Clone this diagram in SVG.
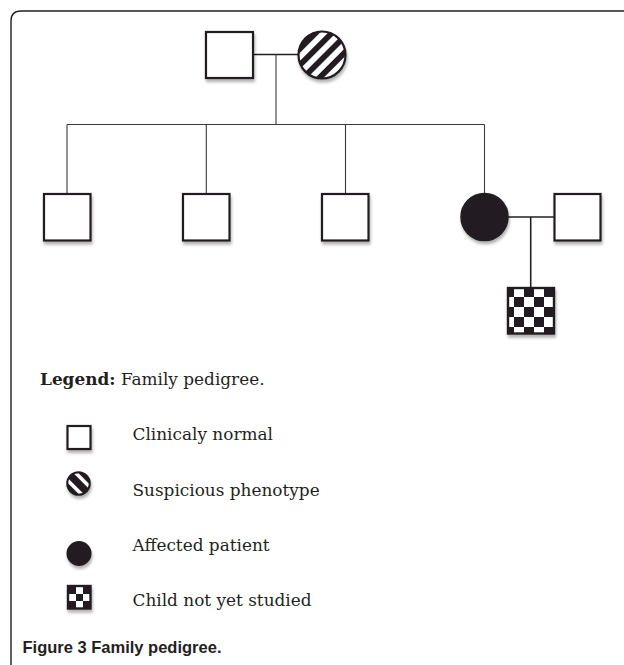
<svg xmlns="http://www.w3.org/2000/svg" width="624" height="665" viewBox="0 0 624 665">
<defs>
<style>
.sq{fill:#fff;stroke:#231f20;stroke-width:2.2}
.blk{fill:#231f20;stroke:#231f20;stroke-width:1.5}
.ln{fill:none;stroke:#3a3a3a;stroke-width:1.1}
.mln{fill:none;stroke:#231f20;stroke-width:1.6}
.lt{font-family:"DejaVu Serif","Liberation Serif",serif;font-size:16.9px;fill:#231f20}
.cap{font-family:"Liberation Sans",Arial,sans-serif;font-weight:bold;font-size:16.5px;fill:#231f20}
</style>
<filter id="sh" x="-30%" y="-30%" width="160%" height="170%">
<feDropShadow dx="1" dy="3" stdDeviation="1.8" flood-color="#000" flood-opacity="0.3"/>
</filter>
<pattern id="stripes" patternUnits="userSpaceOnUse" width="11.5" height="11.5" patternTransform="translate(322 55) rotate(45)">
<rect width="11.5" height="11.5" fill="#fff"/>
<rect width="5.8" height="11.5" fill="#231f20"/>
</pattern>
<clipPath id="smallc"><circle cx="78.5" cy="483.5" r="11.3"/></clipPath>
<pattern id="check" patternUnits="userSpaceOnUse" x="504" y="287" width="20" height="20">
<rect width="20" height="20" fill="#fff"/>
<rect width="10" height="10" fill="#231f20"/>
<rect x="10" y="10" width="10" height="10" fill="#231f20"/>
</pattern>
<pattern id="check2" patternUnits="userSpaceOnUse" x="69" y="587" width="14" height="14">
<rect width="14" height="14" fill="#fff"/>
<rect width="7" height="7" fill="#231f20"/>
<rect x="7" y="7" width="7" height="7" fill="#231f20"/>
</pattern>
</defs>
<rect width="624" height="665" fill="#fff"/>
<path d="M11 665 V21 Q11 11 21 11 H624" fill="none" stroke="#231f20" stroke-width="1.4"/>

<g id="connectors">
<line class="mln" x1="253" y1="54.5" x2="299" y2="54.5"/>
<line class="ln" x1="276" y1="54.5" x2="276" y2="124.5"/>
<line class="ln" x1="67" y1="124.5" x2="484.5" y2="124.5"/>
<line class="ln" x1="67" y1="124.5" x2="67" y2="194"/>
<line class="ln" x1="206.3" y1="124.5" x2="206.3" y2="194"/>
<line class="ln" x1="345.5" y1="124.5" x2="345.5" y2="194"/>
<line class="ln" x1="484.5" y1="124.5" x2="484.5" y2="194"/>
<line class="mln" x1="507" y1="217" x2="555" y2="217"/>
<line class="mln" x1="530.7" y1="217" x2="530.7" y2="288"/>
</g>

<g id="father" filter="url(#sh)"><rect class="sq" x="206" y="32" width="47" height="46"/></g>
<g id="mother" filter="url(#sh)"><circle cx="322" cy="55" r="23.5" fill="url(#stripes)" stroke="#231f20" stroke-width="2.2"/></g>
<g id="child1" filter="url(#sh)"><rect class="sq" x="44" y="194" width="46.5" height="46.5"/></g>
<g id="child2" filter="url(#sh)"><rect class="sq" x="183" y="194" width="46.5" height="46.5"/></g>
<g id="child3" filter="url(#sh)"><rect class="sq" x="322" y="194" width="46.5" height="46.5"/></g>
<g id="affected" filter="url(#sh)"><circle class="blk" cx="484.5" cy="217" r="23.5"/></g>
<g id="spouse" filter="url(#sh)"><rect class="sq" x="554.5" y="194" width="46" height="46.5"/></g>
<g id="grandchild" filter="url(#sh)"><rect x="508" y="288" width="46" height="45.5" fill="url(#check)" stroke="#231f20" stroke-width="2.4"/></g>

<g id="legend">
<text class="lt" x="40" y="385"><tspan font-weight="bold">Legend:</tspan> Family pedigree.</text>
<g filter="url(#sh)"><rect class="sq" x="67.5" y="426" width="23" height="23" stroke-width="2"/></g>
<text class="lt" x="132.5" y="440">Clinicaly normal</text>
<g filter="url(#sh)">
<circle cx="78.5" cy="483.5" r="11.3" fill="#231f20"/>
<g clip-path="url(#smallc)" transform="rotate(45 78.5 483.5)">
<rect x="64" y="476.2" width="30" height="3.6" fill="#fff"/>
<rect x="64" y="487.2" width="30" height="3.6" fill="#fff"/>
</g>
<circle cx="78.5" cy="483.5" r="11.3" fill="none" stroke="#231f20" stroke-width="2"/>
</g>
<text class="lt" x="132.5" y="496">Suspicious phenotype</text>
<g filter="url(#sh)"><circle class="blk" cx="79" cy="553.5" r="11.8"/></g>
<text class="lt" x="132.5" y="551">Affected patient</text>
<g filter="url(#sh)"><rect x="68" y="586" width="22.5" height="22.5" fill="url(#check2)" stroke="#231f20" stroke-width="2.4"/></g>
<text class="lt" x="132.5" y="606">Child not yet studied</text>
</g>

<text class="cap" x="22.5" y="653">Figure 3 Family pedigree.</text>
</svg>
